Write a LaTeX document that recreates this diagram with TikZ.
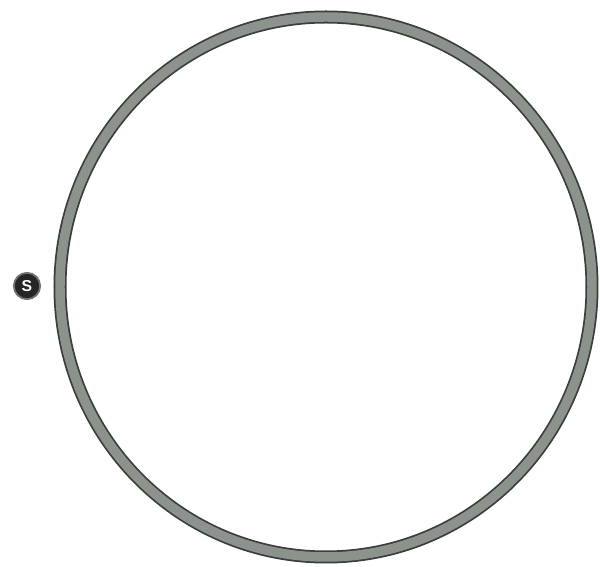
\documentclass[tikz,border=0pt]{standalone}
\usepackage{fontspec}
\setmainfont{Liberation Sans}
\definecolor{ringgray}{RGB}{140,146,140}
\definecolor{ringedge}{RGB}{60,62,62}
\tikzset{
  marker/.style={circle,fill=black!85,draw=black!55,line width=1pt,text=white,inner sep=0pt,minimum size=15pt,font=\bfseries\small}
}
\begin{document}
\begin{tikzpicture}[x=0.02cm,y=-0.02cm]
\useasboundingbox (0,0) rectangle (600,567);
% ring
\draw[ringedge,line width=7.4pt] (326,287) ellipse (266 and 270);
\draw[ringgray,line width=5.4pt] (326,287) ellipse (266 and 270);
% start mark
\node[marker] (start) at (27,286) {S};
\end{tikzpicture}
\end{document}
